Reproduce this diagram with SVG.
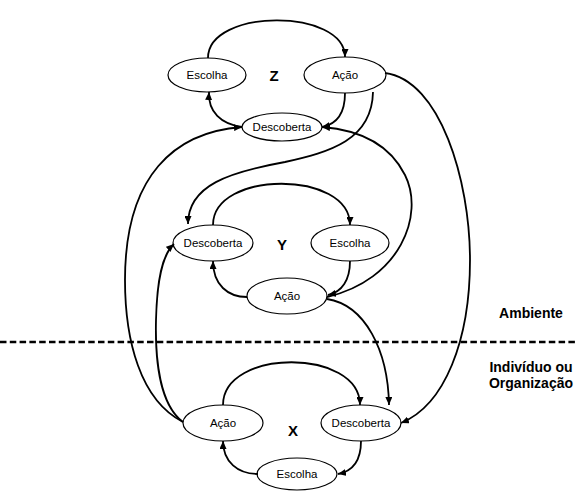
<svg xmlns="http://www.w3.org/2000/svg" width="577" height="491" viewBox="0 0 577 491">
  <style>
    .node ellipse { fill: #fff; stroke: #000; stroke-width: 1.2; }
    .node text { font-family: "Liberation Sans", Arial, sans-serif; font-size: 11.5px; text-anchor: middle; fill: #000; }
    .tag { font-family: "Liberation Sans", Arial, sans-serif; font-size: 15px; font-weight: bold; text-anchor: middle; fill: #000; }
    .zone { font-family: "Liberation Sans", Arial, sans-serif; font-size: 14px; font-weight: bold; text-anchor: middle; fill: #000; }
    #connectors path { fill: none; stroke: #000; stroke-width: 1.8; marker-end: url(#arrow); }
    .divider { stroke: #000; stroke-width: 2.5; stroke-dasharray: 6.5 3.3; }
  </style>
  <defs>
    <marker id="arrow" viewBox="0 0 8 7" refX="8" refY="3.5" markerWidth="8" markerHeight="7" markerUnits="userSpaceOnUse" orient="auto">
      <path d="M0,0 L8,3.5 L0,7 z" fill="#000"/>
    </marker>
  </defs>

  <!-- boundary between environment and individual/organization -->
  <line class="divider" x1="0" y1="342" x2="577" y2="342"/>
  <text class="zone" x="531" y="318">Ambiente</text>
  <text class="zone" x="531" y="372">Indivíduo ou</text>
  <text class="zone" x="531" y="388">Organização</text>

  <!-- cycle Z -->
  <g id="z-escolha" class="node"><ellipse cx="207" cy="75" rx="39" ry="17"/><text x="207" y="79">Escolha</text></g>
  <g id="z-acao" class="node"><ellipse cx="345" cy="75" rx="41" ry="18"/><text x="345" y="79">Ação</text></g>
  <g id="z-descoberta" class="node"><ellipse cx="282" cy="127" rx="40" ry="14"/><text x="282" y="131">Descoberta</text></g>
  <text class="tag" x="274" y="81">Z</text>

  <!-- cycle Y -->
  <g id="y-descoberta" class="node"><ellipse cx="213" cy="243" rx="40" ry="18"/><text x="213" y="247">Descoberta</text></g>
  <g id="y-escolha" class="node"><ellipse cx="350" cy="243" rx="39" ry="18"/><text x="350" y="247">Escolha</text></g>
  <g id="y-acao" class="node"><ellipse cx="287" cy="296" rx="40" ry="18"/><text x="287" y="300">Ação</text></g>
  <text class="tag" x="282" y="250">Y</text>

  <!-- cycle X -->
  <g id="x-acao" class="node"><ellipse cx="223" cy="423" rx="40" ry="18"/><text x="223" y="427">Ação</text></g>
  <g id="x-descoberta" class="node"><ellipse cx="361" cy="423" rx="40" ry="18"/><text x="361" y="427">Descoberta</text></g>
  <g id="x-escolha" class="node"><ellipse cx="297" cy="474" rx="40" ry="16"/><text x="297" y="478">Escolha</text></g>
  <text class="tag" x="293" y="436">X</text>

  <g id="connectors">
    <!-- Z -->
    <path d="M208,58 C208,8 345,8 345,57"/>
    <path d="M345,93 C345,112 338,124 322,127"/>
    <path d="M242,127 C221,124 208,112 209,92"/>
    <!-- Y -->
    <path d="M213,225 C213,170 350,170 350,225"/>
    <path d="M350,261 C350,280 342,292 328,295"/>
    <path d="M247,297 C228,297 213,285 213,261"/>
    <!-- X -->
    <path d="M223,405 C223,348 360,348 360,405"/>
    <path d="M361,441 C361,460 354,471 338,474"/>
    <path d="M258,474 C238,474 223,462 223,441"/>
    <!-- between cycles -->
    <path d="M373,92 C372,140 330,152 285,162 C230,172 188,185 188,224"/>
    <path d="M327,297 C400,280 425,215 405,175 C390,145 360,130 322,127"/>
    <path d="M327,299 C365,305 388,350 389,405"/>
    <path d="M385,73 C440,80 470,180 470,260 C470,340 445,405 401,423"/>
    <path d="M183,422 C140,400 125,340 125,280 C125,175 175,132 242,127"/>
    <path d="M183,422 C160,405 155,360 156,320 C157,280 162,255 174,244"/>
  </g>
</svg>
